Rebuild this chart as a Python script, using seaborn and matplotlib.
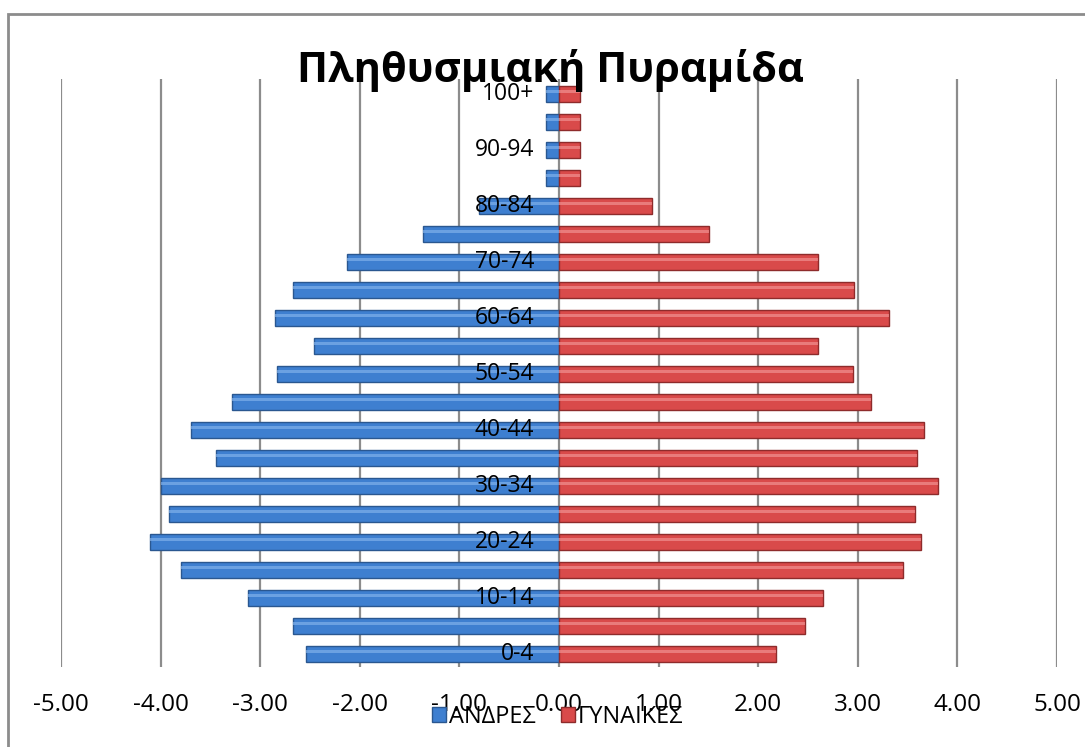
import numpy as np
import pandas as pd
import matplotlib
matplotlib.use("Agg")
import matplotlib.pyplot as plt
from matplotlib.patches import Patch, Rectangle
import seaborn as sns

# ── Data ─────────────────────────────────────────────────────
ages = ['0-4', '5-9', '10-14', '15-19', '20-24', '25-29', '30-34', '35-39',
        '40-44', '45-49', '50-54', '55-59', '60-64', '65-69', '70-74',
        '75-79', '80-84', '85-89', '90-94', '95-99', '100+']
men = [-2.54, -2.67, -3.12, -3.80, -4.11, -3.92, -4.00, -3.44, -3.69, -3.28,
       -2.83, -2.46, -2.85, -2.67, -2.13, -1.37, -0.80, -0.13, -0.13, -0.13, -0.13]
women = [2.18, 2.47, 2.65, 3.45, 3.63, 3.57, 3.81, 3.59, 3.66, 3.13,
         2.95, 2.60, 3.31, 2.96, 2.60, 1.51, 0.93, 0.21, 0.21, 0.21, 0.21]
sexes = ['ΑΝΔΡΕΣ', 'ΓΥΝΑΙΚΕΣ']
x_ticks = [-5, -4, -3, -2, -1, 0, 1, 2, 3, 4, 5]

df = pd.DataFrame({
    'age': ages * 2,
    'sex': [sexes[0]] * len(ages) + [sexes[1]] * len(ages),
    'value': men + women,
})
order = ages[::-1]  # 100+ on top

# ── Style ────────────────────────────────────────────────────
sns.set_style("white")
plt.rcParams['font.family'] = ['Open Sans', 'DejaVu Sans']
plt.rcParams['text.color'] = 'black'
plt.rcParams['xtick.color'] = 'black'

blue, red = '#3e7fd0', '#d94a4a'
blue_edge, red_edge = '#2a5790', '#8e2b2b'
blue_hi, red_hi = '#7fb0ea', '#f09090'
grid_c = '#8c8c8c'

fig = plt.figure(figsize=(10.85, 7.47), dpi=100)
ax = fig.add_axes([0.0562, 0.1071, 0.918, 0.7871])

sns.barplot(data=df, x='value', y='age', hue='sex', order=order,
            hue_order=sexes, palette=[blue, red], dodge=False, width=0.57,
            saturation=1, legend=False, ax=ax, zorder=3)

# darker edge + light glossy stripe, like the Excel bevel
bars = list(ax.patches)
for bar, edge, hi in zip(bars, [blue_edge] * len(ages) + [red_edge] * len(ages),
                         [blue_hi] * len(ages) + [red_hi] * len(ages)):
    bar.set_edgecolor(edge)
    bar.set_linewidth(1.0)
    x0, y0 = bar.get_x(), bar.get_y()
    w, h = bar.get_width(), bar.get_height()
    ax.add_patch(Rectangle((x0, y0 + h * 0.22), w, h * 0.18, facecolor=hi,
                           edgecolor='none', alpha=0.7, zorder=4))

ax.set_xlim(-5, 5)
ax.set_ylim(20.46, -0.54)
ax.set_xticks(x_ticks)
ax.set_xticklabels([f"{t:.2f}" for t in x_ticks], fontsize=17.5)
ax.tick_params(axis='x', length=0, pad=19)
ax.set_yticks([])
ax.set_xlabel('')
ax.set_ylabel('')
for s in ax.spines.values():
    s.set_visible(False)
for t in x_ticks:
    ax.axvline(t, color=grid_c, lw=1.6, zorder=1)

# category labels (every other group) next to the zero line
for i, a in enumerate(order):
    if ages.index(a) % 2 == 0:
        ax.text(-0.25, i, a, ha='right', va='center', fontsize=16.5, zorder=5)

# title
fig.text(0.507, 0.890, 'Πληθυσμιακή Πυραμίδα', ha='center', va='baseline',
         fontsize=30, fontweight='bold')

# legend
handles = [Patch(facecolor=blue, edgecolor=blue_edge),
           Patch(facecolor=red, edgecolor=red_edge)]
fig.legend(handles, sexes, loc='center', bbox_to_anchor=(0.514, 0.040),
           ncol=2, frameon=False, fontsize=17, handlelength=0.6,
           handleheight=0.6, handletextpad=0.1, columnspacing=1.1)

# outer chart border
fig.patches.append(Rectangle((8 / 1085, -0.1), 1.2, (747 - 14) / 747 + 0.1,
                             transform=fig.transFigure, fill=False,
                             edgecolor=grid_c, lw=2, zorder=0))

fig.savefig('out.png', dpi=100)
